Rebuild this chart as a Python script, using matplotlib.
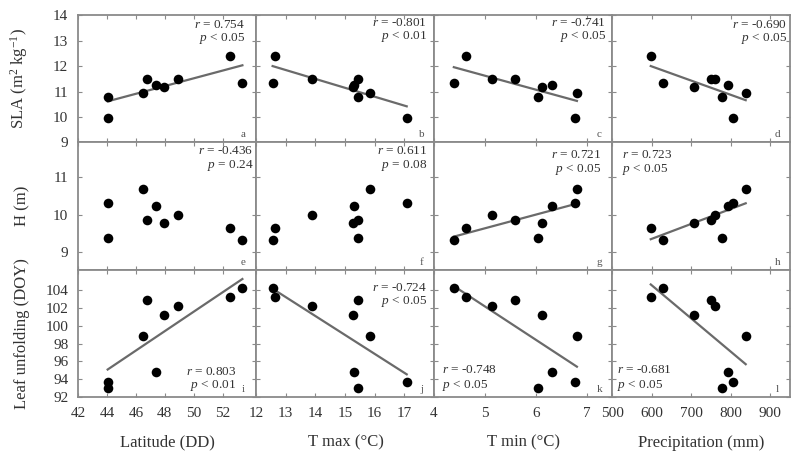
import numpy as np
import matplotlib
matplotlib.use("Agg")
import matplotlib.pyplot as plt

plt.rcParams['font.family'] = ['Liberation Serif', 'DejaVu Serif']
plt.rcParams['mathtext.fontset'] = 'custom'
plt.rcParams['mathtext.rm'] = 'Liberation Serif'
plt.rcParams['mathtext.it'] = 'Liberation Serif:italic'

# ---- data (one value per site) ----
latitude = [44.05, 44.10, 46.46, 46.78, 47.38, 47.95, 48.92, 52.48, 53.36]
tmax = [15.43, 17.08, 15.83, 15.44, 15.32, 15.27, 13.89, 12.63, 12.56]
tmin = [6.05, 6.78, 6.81, 5.60, 6.32, 6.12, 5.14, 4.62, 4.39]
precipitation = [779, 805, 838, 751, 793, 708, 761, 598, 628]

sla = [10.77, 9.96, 10.94, 11.51, 11.27, 11.16, 11.51, 12.40, 11.33]
height = [9.39, 10.31, 10.69, 9.86, 10.24, 9.78, 10.00, 9.64, 9.33]
leaf_unfolding = [92.97, 93.70, 98.9, 102.9, 94.8, 101.2, 102.2, 103.2, 104.25]

x_labels = ['Latitude (DD)', 'T max (°C)', 'T min (°C)', 'Precipitation (mm)']
y_labels = ['SLA (m$^2$ kg$^{-1}$)', 'H (m)', 'Leaf unfolding (DOY)']

r_values = [['0.754', '-0.801', '-0.741', '-0.690'],
            ['-0.436', '0.611', '0.721', '0.723'],
            ['0.803', '-0.724', '-0.748', '-0.681']]
p_values = [['< 0.05', '< 0.01', '< 0.05', '< 0.05'],
            ['= 0.24', '= 0.08', '< 0.05', '< 0.05'],
            ['< 0.01', '< 0.05', '< 0.05', '< 0.05']]
has_fit = [[True, True, True, True],
           [False, False, True, True],
           [True, True, True, True]]
panel_letters = [['a', 'b', 'c', 'd'], ['e', 'f', 'g', 'h'], ['i', 'j', 'k', 'l']]

x_ticks = [[42, 44, 46, 48, 50, 52], [12, 13, 14, 15, 16, 17], [4, 5, 6, 7],
           [500, 600, 700, 800, 900]]
y_ticks = [[9, 10, 11, 12, 13, 14], [9, 10, 11], [92, 94, 96, 98, 100, 102, 104]]

# ---- layout / style ----
xs = [latitude, tmax, tmin, precipitation]
ys = [sla, height, leaf_unfolding]
x_lims = [(42, 54.3), (12, 18), (4, 7.5), (500, 950)]
y_lims = [(9, 14), (8.54, 11.92), (92, 106.3)]

# annotation positions (axes coords): (x, y_r, y_p, ha)
ann_pos = [[(0.94, 0.92, 0.815, 'right'), (0.96, 0.935, 0.83, 'right'),
            (0.965, 0.935, 0.83, 'right'), (0.983, 0.92, 0.815, 'right')],
           [(0.985, 0.93, 0.82, 'right'), (0.96, 0.93, 0.82, 'right'),
            (0.94, 0.90, 0.79, 'right'), (0.055, 0.90, 0.79, 'left')],
           [(0.89, 0.20, 0.09, 'right'), (0.96, 0.86, 0.75, 'right'),
            (0.045, 0.21, 0.09, 'left'), (0.03, 0.21, 0.09, 'left')]]

frame_col = '#8a8a8a'
text_col = '#333333'

fig, axes = plt.subplots(3, 4, figsize=(8, 4.58), dpi=100)
fig.subplots_adjust(left=0.0975, right=0.9875, top=0.967, bottom=0.133,
                    wspace=0, hspace=0)

for i in range(3):
    for j in range(4):
        ax = axes[i, j]
        x = np.array(xs[j], dtype=float)
        y = np.array(ys[i], dtype=float)
        ax.scatter(x, y, s=48, color='black', zorder=3, linewidths=0)
        if has_fit[i][j]:
            k, b = np.polyfit(x, y, 1)
            xx = np.array([x.min(), x.max()])
            ax.plot(xx, k * xx + b, color='#6a6a6a', lw=1.6, zorder=2)
        ax.set_xlim(*x_lims[j])
        ax.set_ylim(*y_lims[i])
        ax.set_xticks(x_ticks[j])
        ax.set_yticks(y_ticks[i])
        ax.tick_params(direction='in', length=3, width=0.8, colors=frame_col,
                       labelcolor=text_col, labelsize=11,
                       top=True, right=True, pad=7)
        if i < 2:
            ax.tick_params(labelbottom=False)
        if j > 0:
            ax.tick_params(labelleft=False)
        for sp in ax.spines.values():
            sp.set_color(frame_col)
            sp.set_linewidth(1.3)
        xa, yr, yp, ha = ann_pos[i][j]
        ax.text(xa, yr, '$r$ = ' + r_values[i][j], transform=ax.transAxes,
                ha=ha, va='center', fontsize=9.5, color=text_col)
        ax.text(xa, yp, '$p$ ' + p_values[i][j], transform=ax.transAxes,
                ha=ha, va='center', fontsize=9.5, color=text_col)
        ax.text(0.93, 0.06, panel_letters[i][j], transform=ax.transAxes,
                ha='center', va='center', fontsize=8, color='#555555')

for i in range(3):
    axes[i, 0].set_ylabel(y_labels[i], fontsize=12, color=text_col)
    axes[i, 0].yaxis.set_label_coords(-0.27, 0.5)

col_centers = [0.209, 0.432, 0.654, 0.876]
for j in range(4):
    fig.text(col_centers[j], 0.033, x_labels[j], ha='center', va='center',
             fontsize=12, color=text_col)

fig.savefig('out.png', dpi=100)
